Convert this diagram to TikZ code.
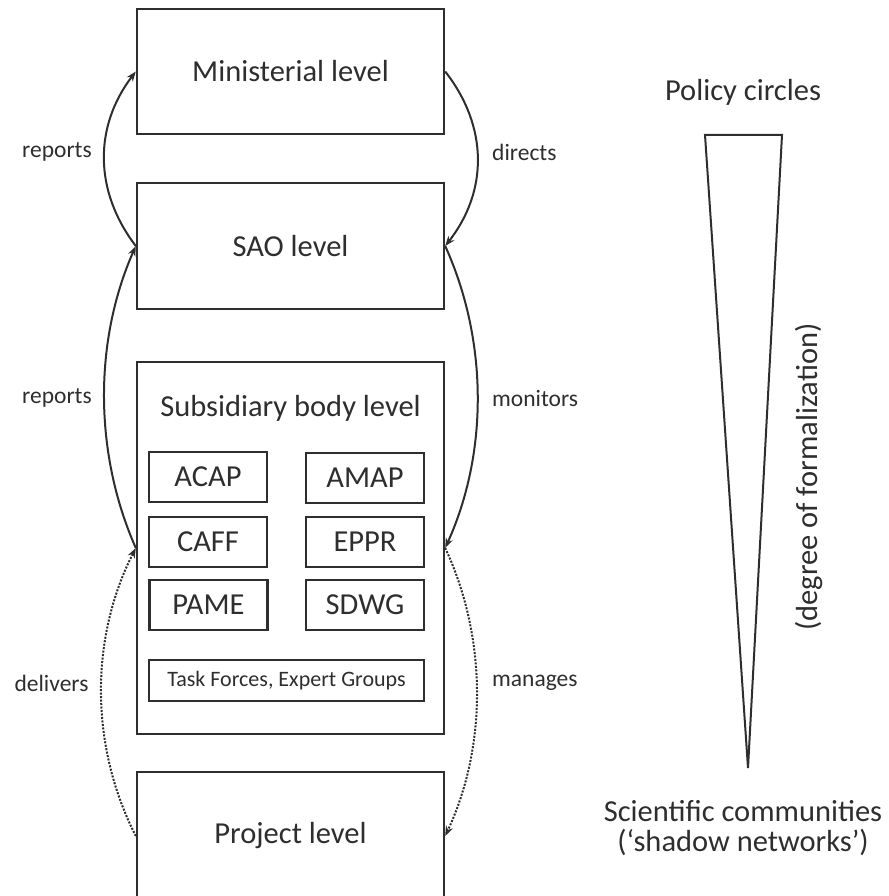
\documentclass[tikz,border=0pt]{standalone}
\usepackage{fontspec}
\setmainfont{Carlito}
\usetikzlibrary{arrows.meta}
\definecolor{ink}{HTML}{2E2E2E}
\begin{document}
\begin{tikzpicture}[x=1pt,y=-1pt,
  big/.style={draw=ink, line width=2.4pt, minimum width=307pt, inner sep=0pt, text=ink, font=\fontsize{30.5}{36}\selectfont},
  small/.style={draw=ink, line width=2.4pt, minimum width=118pt, minimum height=50pt, inner sep=0pt, text=ink, font=\fontsize{30.5}{36}\selectfont},
  lbl/.style={text=ink, font=\fontsize{23.5}{28}\selectfont, inner sep=0pt},
  ttl/.style={text=ink, font=\fontsize{30.5}{36}\selectfont, inner sep=0pt, align=center},
  arr/.style={draw=ink, line width=2pt, -{Stealth[length=10pt,width=7.5pt]}},
  dotarr/.style={arr, dash pattern=on 2pt off 1.5pt}
]
\useasboundingbox (0,0) rectangle (888,896);
% main level boxes
\node[big, minimum height=125pt] (min) at (290.5,71.5) {Ministerial level};
\node[big, minimum height=126pt] (sao) at (290.5,246) {SAO level};
\node[big, minimum height=372pt] (sub) at (290.5,548) {};
\node[big, minimum height=128pt] (proj) at (290.5,836) {Project level};
\node[ttl] (subttl) at (290.5,408) {Subsidiary body level};
% subsidiary bodies
\node[small] (acap) at (208,477) {ACAP};
\node[small] (amap) at (365,478) {AMAP};
\node[small] (caff) at (208,542) {CAFF};
\node[small] (eppr) at (365,542) {EPPR};
\node[small] (pame) at (208.5,605) {PAME};
\node[small] (sdwg) at (365,605) {SDWG};
\node[small, minimum width=275pt, minimum height=41pt, font=\fontsize{22}{26}\selectfont] (task) at (286.5,680.5) {Task Forces, Expert Groups};
% left connectors
\draw[arr] (sao.west) .. controls +(-42,-55) and +(-42,55) .. (min.west);
\draw[arr] (sub.west) .. controls +(-42,-95) and +(-42,95) .. (sao.west);
\draw[dotarr] (proj.west) .. controls +(-46,-90) and +(-46,90) .. (sub.west);
% right connectors
\draw[arr] (min.east) .. controls +(43,55) and +(43,-55) .. (sao.east);
\draw[arr] (sao.east) .. controls +(43,95) and +(43,-95) .. (sub.east);
\draw[dotarr] (sub.east) .. controls +(42,90) and +(42,-90) .. (proj.east);
% labels
\node[lbl] (rep1) at (57,152) {reports};
\node[lbl] (rep2) at (57,398) {reports};
\node[lbl] (deliv) at (51.5,683) {delivers};
\node[lbl, anchor=west] (dir) at (492,152) {directs};
\node[lbl, anchor=west] (mon) at (492,398) {monitors};
\node[lbl, anchor=west] (man) at (492,683) {manages};
% policy triangle
\node[ttl] (pol) at (743,92) {Policy circles};
\coordinate (tl) at (705,135);
\coordinate (tr) at (782,135);
\coordinate (apex) at (748,768);
\draw[draw=ink, line width=2pt, line join=miter] (tl) -- (tr) -- (apex) -- cycle;
\node[ttl, rotate=90] (deg) at (809,477) {(degree of formalization)};
\node[ttl, font=\fontsize{30.5}{30}\selectfont] (sci) at (743,828) {Scientific communities\\(‘shadow networks’)};
\end{tikzpicture}
\end{document}
